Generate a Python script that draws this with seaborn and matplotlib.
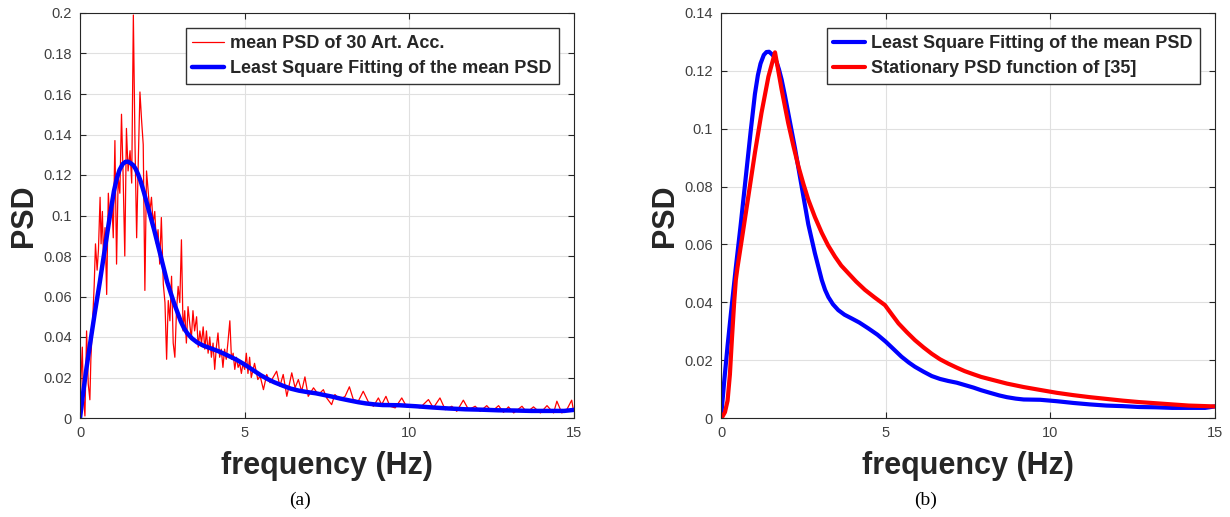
import matplotlib
matplotlib.use("Agg")
import matplotlib.pyplot as plt
import seaborn as sns
from matplotlib.ticker import FuncFormatter, MultipleLocator

# ---------------- data ----------------
# mean PSD of 30 artificial accelerograms (panel a, noisy red)
mean_freq = [0.00, 0.03, 0.07, 0.10, 0.15, 0.20, 0.25, 0.30, 0.33, 0.37, 0.43, 0.47,
             0.52, 0.56, 0.61, 0.64, 0.68, 0.71, 0.76, 0.81, 0.86, 0.91, 0.96, 1.01,
             1.06, 1.11, 1.16, 1.21, 1.26, 1.31, 1.36, 1.41, 1.46, 1.52, 1.57, 1.62,
             1.67, 1.72, 1.77, 1.82, 1.87, 1.92, 1.97, 2.02, 2.07, 2.12, 2.17, 2.22,
             2.27, 2.32, 2.37, 2.42, 2.47, 2.53, 2.58, 2.63, 2.68, 2.73, 2.78, 2.83,
             2.88, 2.93, 2.98, 3.03, 3.08, 3.13, 3.18, 3.23, 3.28, 3.33, 3.38, 3.43,
             3.48, 3.54, 3.59, 3.64, 3.69, 3.74, 3.79, 3.84, 3.89, 3.94, 3.99, 4.04,
             4.09, 4.14, 4.19, 4.24, 4.29, 4.34, 4.39, 4.44, 4.49, 4.55, 4.60, 4.65,
             4.70, 4.75, 4.80, 4.85, 4.90, 4.95, 5.00, 5.05, 5.10, 5.15, 5.20, 5.30,
             5.40, 5.47, 5.57, 5.67, 5.77, 5.97, 6.07, 6.17, 6.28, 6.43, 6.53, 6.63,
             6.73, 6.83, 6.93, 7.09, 7.24, 7.39, 7.49, 7.64, 7.74, 7.89, 8.05, 8.18,
             8.30, 8.45, 8.60, 8.76, 8.91, 9.06, 9.16, 9.29, 9.41, 9.57, 9.77, 9.92,
             10.12, 10.32, 10.58, 10.73, 10.93, 11.09, 11.29, 11.44, 11.64, 11.80,
             12.00, 12.15, 12.35, 12.51, 12.71, 12.86, 13.01, 13.17, 13.42, 13.57,
             13.77, 13.98, 14.18, 14.38, 14.48, 14.63, 14.78, 14.93, 14.98]
mean_psd = [0.000, 0.020, 0.035, 0.012, 0.001, 0.043, 0.017, 0.009, 0.029, 0.043, 0.065, 0.086,
            0.073, 0.083, 0.109, 0.086, 0.102, 0.080, 0.094, 0.061, 0.111, 0.096, 0.109, 0.089,
            0.137, 0.076, 0.119, 0.111, 0.150, 0.119, 0.080, 0.143, 0.122, 0.132, 0.116, 0.199,
            0.135, 0.089, 0.127, 0.161, 0.147, 0.135, 0.063, 0.122, 0.112, 0.102, 0.109, 0.096,
            0.102, 0.086, 0.093, 0.076, 0.099, 0.066, 0.057, 0.029, 0.058, 0.048, 0.070, 0.037,
            0.030, 0.053, 0.065, 0.057, 0.088, 0.043, 0.053, 0.037, 0.055, 0.047, 0.039, 0.053,
            0.043, 0.050, 0.035, 0.043, 0.037, 0.045, 0.034, 0.043, 0.032, 0.040, 0.030, 0.037,
            0.024, 0.035, 0.042, 0.030, 0.034, 0.025, 0.034, 0.029, 0.037, 0.048, 0.029, 0.032,
            0.024, 0.030, 0.025, 0.027, 0.022, 0.027, 0.024, 0.032, 0.022, 0.030, 0.020, 0.027,
            0.019, 0.0207, 0.0140, 0.0215, 0.0174, 0.0231, 0.0157, 0.0215, 0.0107, 0.0223, 0.0149, 0.0190,
            0.0132, 0.0203, 0.0107, 0.0149, 0.0116, 0.0140, 0.0099, 0.0066, 0.0116, 0.0091, 0.0107, 0.0154,
            0.0091, 0.0083, 0.0132, 0.0078, 0.0058, 0.0099, 0.0066, 0.0107, 0.0058, 0.0050, 0.0099, 0.0055,
            0.0061, 0.0050, 0.0091, 0.0050, 0.0099, 0.0041, 0.0058, 0.0033, 0.0088, 0.0041,
            0.0058, 0.0033, 0.0061, 0.0033, 0.0061, 0.0028, 0.0055, 0.0025, 0.0058, 0.0028,
            0.0055, 0.0025, 0.0061, 0.0025, 0.0083, 0.0025, 0.0041, 0.0088, 0.0041]

# least-square fitting of the mean PSD (blue, both panels)
fit_freq = [0.00, 0.10, 0.20, 0.30, 0.45, 0.60, 0.75, 0.90, 1.03, 1.12, 1.20, 1.30,
            1.38, 1.46, 1.54, 1.62, 1.69, 1.76, 1.84, 1.94, 2.04, 2.25, 2.45, 2.65,
            2.85, 3.06, 3.16, 3.26, 3.40, 3.56, 3.75, 3.97, 4.20, 4.47, 4.75, 5.00,
            5.25, 5.48, 5.70, 5.89, 6.15, 6.40, 6.65, 6.90, 7.16, 7.40, 7.67, 7.90,
            8.17, 8.45, 8.68, 8.95, 9.19, 9.69, 10.2, 10.7, 11.2, 11.7, 12.2, 12.7,
            13.2, 13.7, 14.2, 14.7, 15.0]
fit_psd = [0.000, 0.013, 0.025, 0.036, 0.052, 0.067, 0.083, 0.099, 0.1120, 0.1185, 0.1225, 0.1255,
           0.1265, 0.1266, 0.1258, 0.1248, 0.1230, 0.1205, 0.117, 0.1115, 0.1055, 0.093, 0.080, 0.067,
           0.057, 0.0477, 0.0443, 0.0418, 0.0393, 0.0373, 0.0357, 0.0344, 0.0330, 0.0310, 0.0288, 0.0264,
           0.0237, 0.0212, 0.0192, 0.0177, 0.0160, 0.0145, 0.0135, 0.0128, 0.0122, 0.0114, 0.0105, 0.0096,
           0.0087, 0.0078, 0.0072, 0.0067, 0.0064, 0.0063, 0.0058, 0.0052, 0.0047, 0.0043, 0.0041, 0.0038,
           0.0037, 0.0035, 0.0035, 0.0035, 0.0040]

# stationary PSD function of [35] (red, panel b)
stat_freq = [0.02, 0.12, 0.20, 0.27, 0.33, 0.40, 0.45, 0.50, 0.63, 0.83, 1.03, 1.23,
             1.44, 1.64, 1.84, 2.04, 2.20, 2.35, 2.50, 2.65, 2.85, 3.06, 3.25, 3.46,
             3.65, 3.87, 4.10, 4.37, 4.65, 4.98, 5.20, 5.39, 5.64, 5.89, 6.15, 6.40,
             6.65, 6.90, 7.16, 7.40, 7.67, 7.90, 8.17, 8.68, 9.19, 9.69, 10.2, 10.7,
             11.2, 11.7, 12.2, 12.7, 13.2, 13.7, 14.2, 15.0]
stat_psd = [0.000, 0.002, 0.006, 0.015, 0.027, 0.040, 0.0477, 0.052, 0.0616, 0.0766, 0.0917, 0.1055,
            0.118, 0.1264, 0.1136, 0.102, 0.094, 0.087, 0.081, 0.0755, 0.0695, 0.064, 0.0597, 0.0558,
            0.0527, 0.050, 0.0472, 0.0443, 0.0418, 0.039, 0.0356, 0.0327, 0.0297, 0.0269, 0.0244, 0.0222,
            0.0203, 0.0188, 0.0174, 0.0162, 0.0151, 0.0142, 0.0134, 0.0119, 0.0107, 0.0097, 0.0087, 0.0079,
            0.0072, 0.0066, 0.0060, 0.0055, 0.0051, 0.0047, 0.0043, 0.0040]

x_ticks = [0, 5, 10, 15]
panel_labels = ["(a)", "(b)"]

# ---------------- styling ----------------
sns.set_theme(style="whitegrid")
plt.rcParams["font.family"] = ["Liberation Sans", "DejaVu Sans"]

AX_COLOR = "#262626"
fig = plt.figure(figsize=(12.3, 5.17), dpi=100)
ax1 = fig.add_axes([80 / 1230, 99 / 517, 494 / 1230, 405 / 517])
ax2 = fig.add_axes([721 / 1230, 99 / 517, 494 / 1230, 405 / 517])

sns.lineplot(x=mean_freq, y=mean_psd, ax=ax1, color="#ff0000", linewidth=0.9,
             estimator=None, sort=False, label="mean PSD of 30 Art. Acc.")
sns.lineplot(x=fit_freq, y=fit_psd, ax=ax1, color="#0000ff", linewidth=3.2,
             estimator=None, sort=False, label="Least Square Fitting of the mean PSD",
             solid_joinstyle="round", solid_capstyle="round")

sns.lineplot(x=fit_freq, y=fit_psd, ax=ax2, color="#0000ff", linewidth=3.0,
             estimator=None, sort=False, label="Least Square Fitting of the mean PSD",
             solid_joinstyle="round", solid_capstyle="round")
sns.lineplot(x=stat_freq, y=stat_psd, ax=ax2, color="#ff0000", linewidth=3.0,
             estimator=None, sort=False, label="Stationary PSD function of [35]",
             solid_joinstyle="round", solid_capstyle="round")

fmt = FuncFormatter(lambda v, p: "0" if abs(v) < 1e-12 else f"{v:g}")

for ax, ymax in [(ax1, 0.2), (ax2, 0.14)]:
    ax.set_facecolor("white")
    ax.set_xlim(0, 15)
    ax.set_ylim(0, ymax)
    ax.set_xticks(x_ticks)
    ax.yaxis.set_major_locator(MultipleLocator(0.02))
    ax.yaxis.set_major_formatter(fmt)
    ax.grid(True, color="#e0e0e0", linewidth=0.8)
    for s in ax.spines.values():
        s.set_visible(True)
        s.set_color(AX_COLOR)
        s.set_linewidth(0.8)
    ax.tick_params(axis="both", which="major", direction="in", length=4, width=0.8,
                   color=AX_COLOR, labelsize=10.5, labelcolor="#404040",
                   top=True, right=True, bottom=True, left=True, pad=6)
    ax.set_xlabel("frequency (Hz)", fontsize=22, fontweight="bold", color=AX_COLOR, labelpad=8)
    ax.set_ylabel("PSD", fontsize=22, fontweight="bold", color=AX_COLOR, labelpad=3)
    leg = ax.legend(loc="upper right", bbox_to_anchor=(0.969, 0.962),
                    prop={"weight": "bold", "size": 13}, frameon=True, fancybox=False,
                    framealpha=1, edgecolor="#333333", handlelength=1.75,
                    handletextpad=0.35, labelspacing=0.42, borderpad=0.38,
                    borderaxespad=0)
    leg.get_frame().set_linewidth(1.0)

fig.text(300 / 1230, 1 - 500 / 517, panel_labels[0], family="Liberation Serif",
         fontsize=14, ha="center", va="center", color="black")
fig.text(926 / 1230, 1 - 500 / 517, panel_labels[1], family="Liberation Serif",
         fontsize=14, ha="center", va="center", color="black")

fig.savefig("out.png", dpi=100, facecolor="white")
